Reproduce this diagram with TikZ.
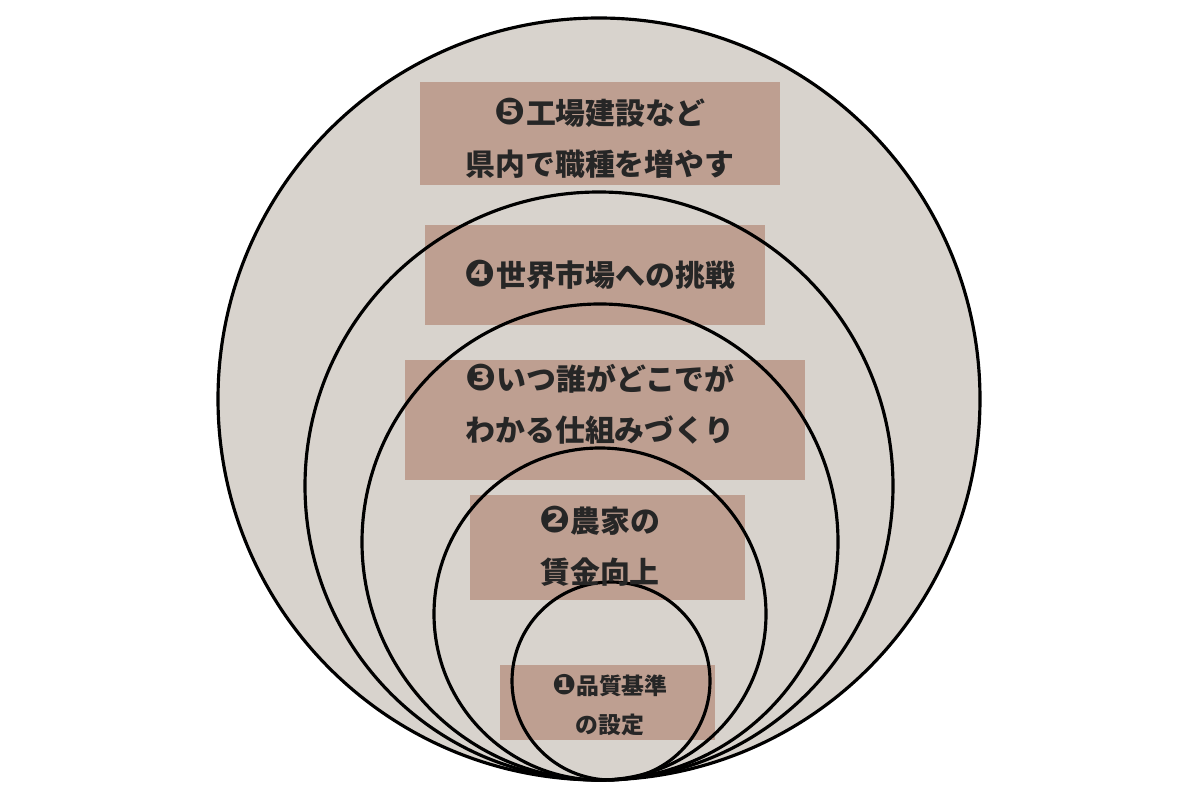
\documentclass[tikz,border=0pt]{standalone}
\usepackage{fontspec}
\setmainfont{Noto Sans CJK JP}
\newfontfamily\dingfont{DejaVu Sans}
\usepackage{xcolor}
\definecolor{discfill}{HTML}{D8D3CD}
\definecolor{brush}{HTML}{BE9F91}
\newcommand{\circnum}[1]{{\dingfont\fontsize{21}{21}\selectfont #1}}
\newcommand{\circnumsmall}[1]{{\dingfont\fontsize{16}{16}\selectfont #1}}
\tikzset{
  disc/.style={draw=black, line width=1.8pt},
  brushbox/.style={fill=brush},
  lbl/.style={align=center, font=\bfseries\fontsize{17}{29}\selectfont, text=black!85},
  lblsmall/.style={align=center, font=\bfseries\fontsize{13}{22}\selectfont, text=black!85}
}
\begin{document}
\begin{tikzpicture}[x=0.02cm, y=-0.02cm]
  \useasboundingbox (0,0) rectangle (1200,800);
  \fill [discfill] (599,399) circle (381);
  % brush strokes
  \fill [brushbox] (420,82) rectangle (780,185);
  \fill [brushbox] (425,225) rectangle (765,325);
  \fill [brushbox] (405,360) rectangle (805,480);
  \fill [brushbox] (470,495) rectangle (745,600);
  \fill [brushbox] (500,665) rectangle (715,740);
  % nested circles, all touching at the bottom
  \draw [disc] (599,399) circle (381);
  \draw [disc] (599,486) circle (294);
  \draw [disc] (600,542) circle (238);
  \draw [disc] (600,614) circle (166);
  \draw [disc] (611,681) circle (99);
  % labels
  \node [lbl] (five) at (600,138) {\circnum{❺}工場建設など\\県内で職種を増やす};
  \node [lbl] (four) at (600,275) {\circnum{❹}世界市場への挑戦};
  \node [lbl] (three) at (600,404) {\circnum{❸}いつ誰がどこでが\\わかる仕組みづくり};
  \node [lbl] (two) at (600,546) {\circnum{❷}農家の\\賃金向上};
  \node [lblsmall] (one) at (610,705) {\circnumsmall{❶}品質基準\\の設定};
\end{tikzpicture}
\end{document}
